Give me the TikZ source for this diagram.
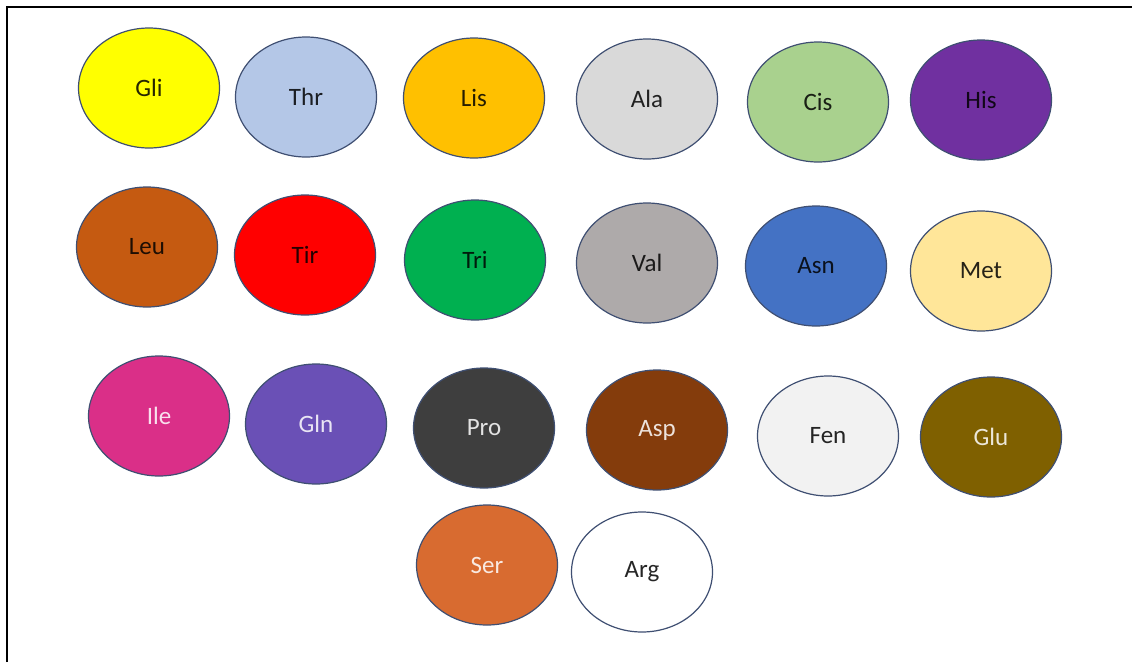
\documentclass[tikz,border=0pt]{standalone}
\usepackage{fontspec}
\setmainfont{Carlito}
\usetikzlibrary{shapes.geometric}

% fill colours of the discs
\definecolor{cGli}{HTML}{FFFF00}
\definecolor{cThr}{HTML}{B4C7E7}
\definecolor{cLis}{HTML}{FFC000}
\definecolor{cAla}{HTML}{D9D9D9}
\definecolor{cCis}{HTML}{A9D18E}
\definecolor{cHis}{HTML}{7030A0}
\definecolor{cLeu}{HTML}{C55A11}
\definecolor{cTir}{HTML}{FF0000}
\definecolor{cTri}{HTML}{00B050}
\definecolor{cVal}{HTML}{AEAAAA}
\definecolor{cAsn}{HTML}{4472C4}
\definecolor{cMet}{HTML}{FFE699}
\definecolor{cIle}{HTML}{DA2F88}
\definecolor{cGln}{HTML}{6A50B6}
\definecolor{cPro}{HTML}{3E3E3E}
\definecolor{cAsp}{HTML}{843C0C}
\definecolor{cFen}{HTML}{F2F2F2}
\definecolor{cGlu}{HTML}{7F6000}
\definecolor{cSer}{HTML}{D86B30}
\definecolor{cArg}{HTML}{FFFFFF}
\definecolor{rim}{HTML}{3F4F72}

\tikzset{
  disc/.style={ellipse, draw=rim, line width=1.2pt, inner sep=0pt,
    minimum width=141pt, minimum height=120pt, font=\fontsize{25}{27}\selectfont},
  darkdisc/.style={disc, fill=#1, text=#1!15!black},
  lightdisc/.style={disc, fill=#1, text=#1!15!white},
  frame/.style={line width=2pt, black}
}

\begin{document}
\begin{tikzpicture}[x=1pt,y=-1pt]
\useasboundingbox (0,0) rectangle (1132,662);

% page frame (top and left edges)
\coordinate (fa) at (6.5,662);
\coordinate (fb) at (6.5,7);
\coordinate (fc) at (1132,7);
\draw[frame] (fa) -- (fb) -- (fc);

% first row
\node[darkdisc=cGli] (gli) at (149,88)  {Gli};
\node[darkdisc=cThr] (thr) at (306,97)  {Thr};
\node[darkdisc=cLis] (lis) at (474,98)  {Lis};
\node[darkdisc=cAla] (ala) at (647,99)  {Ala};
\node[darkdisc=cCis] (cis) at (818,102) {Cis};
\node[darkdisc=cHis] (his) at (981,100) {His};

% second row
\node[darkdisc=cLeu] (leu) at (147,247) {Leu};
\node[darkdisc=cTir] (tir) at (305,255) {Tir};
\node[darkdisc=cTri] (tri) at (475,260) {Tri};
\node[darkdisc=cVal] (val) at (647,263) {Val};
\node[darkdisc=cAsn] (asn) at (816,266) {Asn};
\node[darkdisc=cMet] (met) at (981,271) {Met};

% third row
\node[lightdisc=cIle] (ile) at (159,416) {Ile};
\node[lightdisc=cGln] (gln) at (316,424) {Gln};
\node[lightdisc=cPro] (pro) at (484,428) {Pro};
\node[lightdisc=cAsp] (asp) at (657,430) {Asp};
\node[darkdisc=cFen]  (fen) at (828,436) {Fen};
\node[lightdisc=cGlu] (glu) at (991,437) {Glu};

% fourth row
\node[lightdisc=cSer] (ser) at (487,565) {Ser};
\node[darkdisc=cArg]  (arg) at (642,572) {Arg};
\end{tikzpicture}
\end{document}
